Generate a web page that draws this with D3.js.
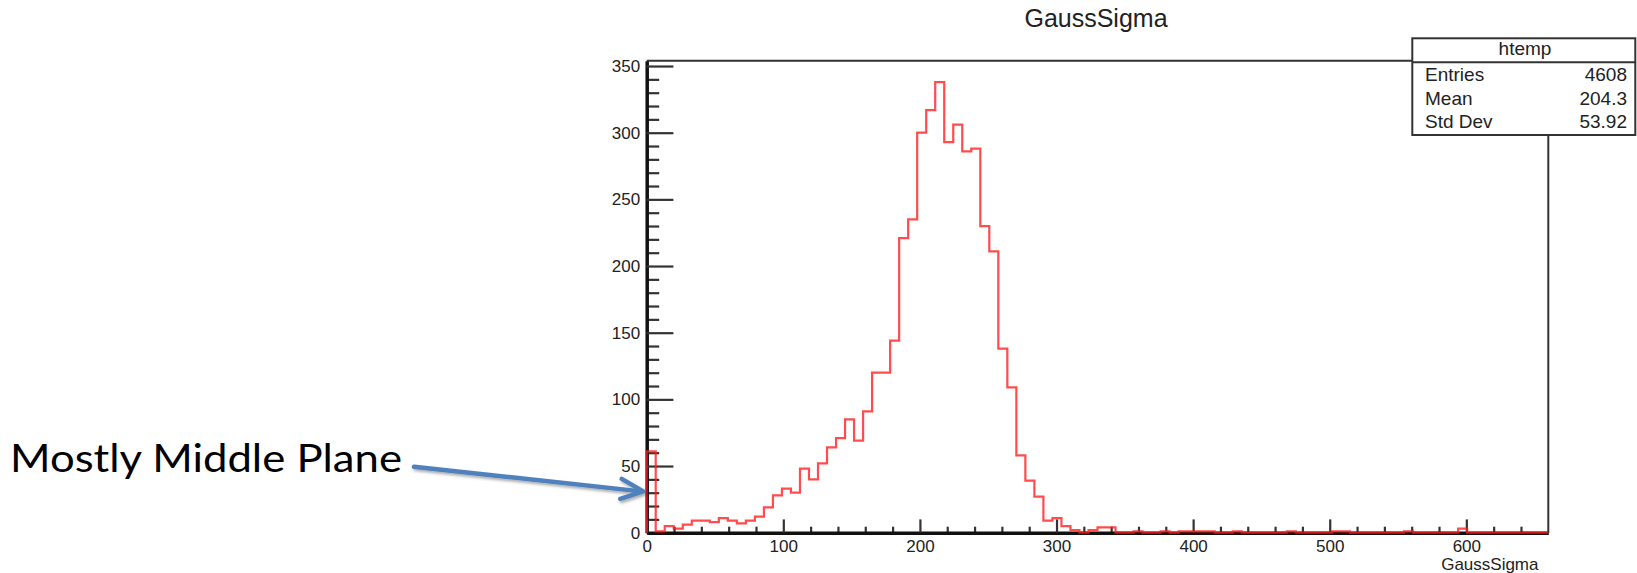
<!DOCTYPE html>
<html>
<head>
<meta charset="utf-8">
<title>GaussSigma</title>
<script src="https://cdn.jsdelivr.net/npm/d3@7"></script>
<style>
    body { margin: 0; background: #fff; }
    svg { display: block; font-family: "Liberation Sans", Arial, Helvetica, sans-serif; }
</style>
</head>
<body>
<svg id="chart" width="1637" height="573"></svg>
<script>
/**
 * histogram data
 */
const xRange = [0, 660];
const nBins = 100;
const counts = [
    61, 1, 5, 3, 6, 9, 9, 8, 11, 9,
    7, 9, 12, 19, 28, 33, 30, 48, 40, 52,
    64, 71, 85, 69, 91, 120, 120, 144, 221, 235,
    300, 317, 338, 293, 306, 286, 288, 230, 211, 138,
    109, 58, 39, 27, 9, 11, 5, 2, 0, 2,
    4, 4, 0, 0, 1, 0, 0, 1, 0, 1,
    1, 1, 1, 0, 0, 1, 0, 0, 0, 0,
    0, 1, 0, 0, 0, 0, 1, 1, 0, 0,
    0, 0, 0, 0, 1, 0, 0, 0, 0, 0,
    3, 0, 0, 0, 0, 0, 0, 0, 0, 0
];
const yMax = 354;
const xMajorTicks = [0, 100, 200, 300, 400, 500, 600];
const yMajorTicks = [0, 50, 100, 150, 200, 250, 300, 350];

const title = 'GaussSigma';
const xTitle = 'GaussSigma';
const statsName = 'htemp';
const statsLabels = ['Entries', 'Mean', 'Std Dev'];
const statsValues = ['4608', '204.3', '53.92'];
const noteText = 'Mostly Middle Plane';
const noteTarget = {x: 0, y: 31};

/**
 * the frame of the plot, in pixels of the svg
 */
const frame = {left: 646.7, right: 1548.3, top: 60.7, bottom: 532.7};

let svg = d3.select('#chart');

let x = d3.scaleLinear()
    .domain(xRange)
    .range([frame.left, frame.right]);
let y = d3.scaleLinear()
    .domain([0, yMax])
    .range([frame.bottom, frame.top]);

// frame lines (top and right)
svg.append('path')
    .attr('d', `M${frame.left},${frame.top}H${frame.right}V${frame.bottom}`)
    .attr('fill', 'none')
    .attr('stroke', '#333')
    .attr('stroke-width', 2);

// y axis: minor ticks every 10, major every 50
let yMinor = d3.range(0, yMax, 10).filter(v => v % 50 !== 0);
svg.append('g')
    .attr('transform', `translate(${frame.left},0)`)
    .call(d3.axisLeft(y).tickValues(yMinor).tickSize(-12.5).tickSizeOuter(0).tickFormat(''))
    .call(g => g.select('.domain').remove())
    .call(g => g.selectAll('line').attr('stroke', '#333').attr('stroke-width', 2.2));
svg.append('g')
    .attr('transform', `translate(${frame.left},0)`)
    .call(d3.axisLeft(y).tickValues(yMajorTicks).tickSize(-26.7).tickSizeOuter(0).tickPadding(6.5))
    .call(g => g.select('.domain').attr('stroke', '#111').attr('stroke-width', 3.5))
    .call(g => g.selectAll('line').attr('stroke', '#333').attr('stroke-width', 2.2))
    .call(g => g.selectAll('text').attr('font-size', 17).attr('fill', '#222').attr('font-family', null));

// x axis: minor ticks every 20, major every 100
let xMinor = d3.range(0, xRange[1], 20).filter(v => v % 100 !== 0);
svg.append('g')
    .attr('transform', `translate(0,${frame.bottom})`)
    .call(d3.axisBottom(x).tickValues(xMinor).tickSize(-6).tickSizeOuter(0).tickFormat(''))
    .call(g => g.select('.domain').remove())
    .call(g => g.selectAll('line').attr('stroke', '#333').attr('stroke-width', 2.2));
svg.append('g')
    .attr('transform', `translate(0,${frame.bottom})`)
    .call(d3.axisBottom(x).tickValues(xMajorTicks).tickSize(-13.3).tickSizeOuter(0).tickPadding(7.5))
    .call(g => g.select('.domain').attr('stroke', '#111').attr('stroke-width', 3.5))
    .call(g => g.selectAll('line').attr('stroke', '#333').attr('stroke-width', 2.2))
    .call(g => g.selectAll('text').attr('font-size', 17).attr('fill', '#222').attr('font-family', null));

/**
 * histogram outline as a step path built from the bins
 */
let binWidth = (xRange[1] - xRange[0]) / nBins;
let pts = [[xRange[0], 0]];
counts.forEach(function(c, i){
    let lo = xRange[0] + i * binWidth;
    pts.push([lo, c], [lo + binWidth, c]);
});
pts.push([xRange[1], 0]);
let line = d3.line()
    .x(d => x(d[0]))
    .y(d => y(d[1]));
svg.append('path')
    .datum(pts)
    .attr('d', line)
    .attr('fill', 'none')
    .attr('stroke', '#ff1a1a')
    .attr('stroke-opacity', 0.78)
    .attr('stroke-width', 2.2)
    .attr('stroke-linejoin', 'miter');

// titles
svg.append('text')
    .attr('x', 1096)
    .attr('y', 27.3)
    .attr('text-anchor', 'middle')
    .attr('font-size', 25)
    .attr('fill', '#222')
    .text(title);
svg.append('text')
    .attr('x', 1538.5)
    .attr('y', 570)
    .attr('text-anchor', 'end')
    .attr('font-size', 17)
    .attr('fill', '#222')
    .text(xTitle);

/**
 * stats box in the top right corner
 */
let stats = svg.append('g');
stats.append('rect')
    .attr('x', 1412.3)
    .attr('y', 38.3)
    .attr('width', 223)
    .attr('height', 96.7)
    .attr('fill', '#fff')
    .attr('stroke', '#333')
    .attr('stroke-width', 2);
stats.append('line')
    .attr('x1', 1412.3).attr('x2', 1635.3)
    .attr('y1', 62.3).attr('y2', 62.3)
    .attr('stroke', '#333')
    .attr('stroke-width', 2);
stats.append('text')
    .attr('x', 1525)
    .attr('y', 54.5)
    .attr('text-anchor', 'middle')
    .attr('font-size', 19)
    .attr('fill', '#222')
    .text(statsName);
let rowY = [81, 105, 128.3];
statsLabels.forEach(function(lab, i){
    stats.append('text')
        .attr('x', 1425)
        .attr('y', rowY[i])
        .attr('font-size', 19)
        .attr('fill', '#222')
        .text(lab);
    stats.append('text')
        .attr('x', 1627)
        .attr('y', rowY[i])
        .attr('text-anchor', 'end')
        .attr('font-size', 19)
        .attr('fill', '#222')
        .text(statsValues[i]);
});

/**
 * slide annotation with its arrow
 */
let defs = svg.append('defs');
defs.append('filter')
    .attr('id', 'shadow')
    .attr('x', '-10%').attr('y', '-50%')
    .attr('width', '120%').attr('height', '200%')
    .append('feDropShadow')
    .attr('dx', 1.5).attr('dy', 2)
    .attr('stdDeviation', 1.5)
    .attr('flood-color', '#000')
    .attr('flood-opacity', 0.35);

svg.append('text')
    .attr('x', 10)
    .attr('y', 471.7)
    .attr('font-family', 'Lato, "Open Sans", sans-serif')
    .attr('font-size', 39)
    .attr('textLength', 392)
    .attr('lengthAdjust', 'spacingAndGlyphs')
    .attr('fill', '#000')
    .text(noteText);

let tipX = x(noteTarget.x) - 3.5;
let tipY = y(noteTarget.y);
let arrow = svg.append('g')
    .attr('filter', 'url(#shadow)')
    .attr('fill', 'none')
    .attr('stroke', '#4f81bd')
    .attr('stroke-width', 4.5)
    .attr('stroke-linecap', 'round')
    .attr('stroke-linejoin', 'round');
arrow.append('line')
    .attr('x1', 414).attr('y1', 466.7)
    .attr('x2', tipX - 2).attr('y2', tipY);
arrow.append('path')
    .attr('d', `M${tipX - 21.5},${tipY - 12.5}L${tipX},${tipY}L${tipX - 23},${tipY + 7.5}`);
</script>
</body>
</html>
